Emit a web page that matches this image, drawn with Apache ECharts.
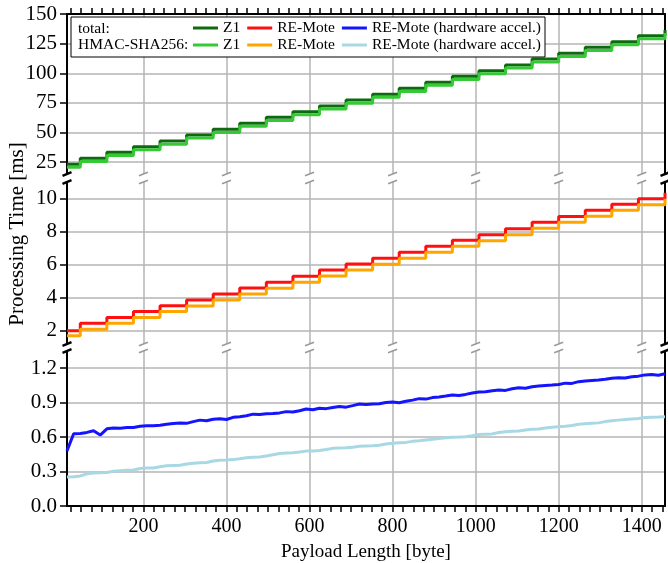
<!DOCTYPE html>
<html><head><meta charset="utf-8">
<script src="https://cdn.jsdelivr.net/npm/echarts@6/dist/echarts.min.js"></script>
<style>html,body{margin:0;padding:0;background:#fff}#c{width:668px;height:563px}</style>
</head><body><div id="c"></div>
<script>
const FONT = 'Liberation Serif';

// step series (one level per 64-byte block)
const stepBytes = [16, 48, 112, 176, 240, 304, 368, 432, 496, 560, 624, 688, 752, 816, 880, 944, 1008, 1072, 1136, 1200, 1264, 1328, 1392, 1456];
const z1Total = [23.3, 28.2, 33.3, 38.0, 42.8, 47.9, 52.7, 57.8, 62.8, 67.6, 72.4, 77.4, 82.3, 87.3, 92.4, 97.4, 102.2, 107.0, 112.0, 116.8, 121.9, 126.6, 131.7, 136.5];
const z1Hmac = [20.7, 25.6, 30.7, 35.4, 40.2, 45.3, 50.1, 55.2, 60.2, 65.0, 69.8, 74.8, 79.7, 84.7, 89.8, 94.8, 99.6, 104.4, 109.4, 114.2, 119.3, 124.0, 129.1, 133.9];
const reTotal = [2.0, 2.45, 2.81, 3.16, 3.52, 3.86, 4.22, 4.59, 4.93, 5.30, 5.68, 6.04, 6.38, 6.75, 7.11, 7.47, 7.81, 8.17, 8.56, 8.92, 9.29, 9.65, 9.99, 10.35];
const reHmac = [1.70, 2.09, 2.45, 2.80, 3.16, 3.50, 3.86, 4.23, 4.57, 4.94, 5.32, 5.68, 6.02, 6.39, 6.75, 7.11, 7.45, 7.81, 8.20, 8.56, 8.93, 9.29, 9.63, 9.99];

// hardware accelerated series
const hwBytes = [16,32,48,64,80,96,112,128,144,160,176,192,208,224,240,256,272,288,304,320,336,352,368,384,400,416,432,448,464,480,496,512,528,544,560,576,592,608,624,640,656,672,688,704,720,736,752,768,784,800,816,832,848,864,880,896,912,928,944,960,976,992,1008,1024,1040,1056,1072,1088,1104,1120,1136,1152,1168,1184,1200,1216,1232,1248,1264,1280,1296,1312,1328,1344,1360,1376,1392,1408,1424,1440,1456];
const hwTotal = [0.48,0.630,0.632,0.641,0.655,0.618,0.672,0.680,0.678,0.683,0.684,0.695,0.698,0.700,0.703,0.712,0.718,0.722,0.720,0.735,0.748,0.742,0.756,0.760,0.753,0.772,0.778,0.786,0.800,0.796,0.803,0.806,0.811,0.822,0.818,0.830,0.845,0.838,0.852,0.848,0.858,0.866,0.861,0.874,0.888,0.884,0.889,0.891,0.902,0.905,0.900,0.912,0.922,0.935,0.931,0.944,0.950,0.958,0.967,0.963,0.972,0.984,0.993,0.996,1.004,1.010,1.007,1.021,1.030,1.026,1.038,1.045,1.050,1.053,1.058,1.070,1.068,1.083,1.089,1.094,1.098,1.104,1.112,1.118,1.115,1.126,1.131,1.142,1.146,1.139,1.152];
const hwHmac = [0.252,0.255,0.262,0.280,0.287,0.290,0.292,0.303,0.308,0.311,0.313,0.326,0.330,0.331,0.342,0.350,0.353,0.355,0.366,0.372,0.376,0.379,0.392,0.398,0.400,0.404,0.412,0.421,0.424,0.426,0.436,0.446,0.458,0.461,0.463,0.470,0.478,0.480,0.483,0.492,0.502,0.506,0.508,0.512,0.520,0.522,0.524,0.530,0.540,0.546,0.550,0.554,0.563,0.568,0.575,0.582,0.588,0.594,0.598,0.600,0.603,0.612,0.622,0.626,0.628,0.640,0.646,0.650,0.654,0.662,0.668,0.670,0.680,0.686,0.690,0.694,0.702,0.712,0.716,0.720,0.724,0.735,0.742,0.748,0.754,0.758,0.762,0.770,0.773,0.775,0.778];

// tick labels
const majorX = [200, 400, 600, 800, 1000, 1200, 1400];
const minorX = [];
for (let v = 25; v < 1456; v += 25) minorX.push(v);
const yTopTicks = [25, 50, 75, 100, 125, 150];
const yMidTicks = [2, 4, 6, 8, 10];
const yBotTicks = [0, 0.3, 0.6, 0.9, 1.2];

const xMin = 16, xMax = 1456;
const grids = [
  {left: 67, right: 3, top: 14, height: 160},
  {left: 67, right: 3, top: 182, height: 162},
  {left: 67, right: 3, top: 351, height: 161}
];
const GRID_COL = '#b5b5b5';
const AX = {color: '#000', width: 2};

function xGridAxis(g) {
  return {type: 'value', gridIndex: g, min: xMin, max: xMax, position: 'bottom',
    axisLine: {show: false}, axisTick: {show: false, customValues: majorX},
    axisLabel: {show: false}, splitLine: {show: true, lineStyle: {color: GRID_COL, width: 1.5}}};
}
function yLeft(g, min, max, ticks, fmt) {
  return {type: 'value', gridIndex: g, min: min, max: max, position: 'left',
    axisLine: {show: true, onZero: false, lineStyle: AX},
    axisTick: {show: true, length: 7, customValues: ticks, lineStyle: {color: '#000', width: 1.5}},
    axisLabel: {show: true, customValues: ticks, margin: 10, color: '#000', fontFamily: FONT, fontSize: 21, formatter: fmt},
    splitLine: {show: true, lineStyle: {color: GRID_COL, width: 1.5}}};
}
function yRight(g, min, max) {
  return {type: 'value', gridIndex: g, min: min, max: max, position: 'right',
    axisLine: {show: true, onZero: false, lineStyle: AX}, axisTick: {show: false},
    axisLabel: {show: false}, splitLine: {show: false}};
}

const xAxes = [
  {type: 'value', gridIndex: 0, min: xMin, max: xMax, position: 'top',
    axisLine: {show: true, onZero: false, lineStyle: AX},
    axisTick: {show: true, length: 6, customValues: minorX, lineStyle: {color: '#000', width: 1.5}},
    axisLabel: {show: false}, splitLine: {show: false}},
  xGridAxis(0),
  xGridAxis(1),
  xGridAxis(2),
  {type: 'value', gridIndex: 2, min: xMin, max: xMax, position: 'bottom',
    axisLine: {show: true, onZero: false, lineStyle: AX},
    axisTick: {show: true, length: 6, customValues: minorX, lineStyle: {color: '#000', width: 1.5}},
    axisLabel: {show: true, customValues: majorX, margin: 11, color: '#000', fontFamily: FONT, fontSize: 20, formatter: v => String(v)},
    splitLine: {show: false},
    name: 'Payload Length [byte]', nameLocation: 'middle', nameGap: 37,
    nameTextStyle: {color: '#000', fontFamily: FONT, fontSize: 19}}
];
const yAxes = [
  yLeft(0, 15, 150, yTopTicks, v => String(v)), yRight(0, 15, 150),
  yLeft(1, 1.2, 11, yMidTicks, v => String(v)), yRight(1, 1.2, 11),
  yLeft(2, 0, 1.35, yBotTicks, v => v.toFixed(1)), yRight(2, 0, 1.35)
];

function lineSeries(name, xi, yi, color, data, step, width) {
  return {name: name, type: 'line', xAxisIndex: xi, yAxisIndex: yi, data: data,
    step: step ? 'end' : false, showSymbol: false, symbol: 'none', silent: true,
    lineStyle: {color: color, width: width}, itemStyle: {color: color},
    emphasis: {disabled: true}, clip: true};
}
const pair = (xs, ys) => xs.map((x, i) => [x, ys[i]]);

const series = [
  lineSeries('total|Z1', 1, 0, '#0e6a0e', pair(stepBytes, z1Total), true, 3),
  lineSeries('hmac|Z1', 1, 0, '#36c936', pair(stepBytes, z1Hmac), true, 3),
  lineSeries('total|RE-Mote', 2, 2, '#ff1010', pair(stepBytes, reTotal), true, 3),
  lineSeries('hmac|RE-Mote', 2, 2, '#ffa500', pair(stepBytes, reHmac), true, 3),
  lineSeries('total|RE-Mote (hardware accel.)', 3, 4, '#1414ff', pair(hwBytes, hwTotal), false, 3),
  lineSeries('hmac|RE-Mote (hardware accel.)', 3, 4, '#a8d8e4', pair(hwBytes, hwHmac), false, 3)
];

const LFS = 15.5;
const legendBase = {orient: 'horizontal', left: 193, itemWidth: 25, itemHeight: 3, itemGap: 7,
  icon: 'rect', selectedMode: false, padding: 0, z: 6,
  formatter: n => n.split('|')[1],
  textStyle: {color: '#000', fontFamily: FONT, fontSize: LFS, padding: [0, 0, 0, 0]}};

const chart = echarts.init(document.getElementById('c'));
chart.setOption({
  animation: false,
  backgroundColor: '#fff',
  grid: grids,
  xAxis: xAxes,
  yAxis: yAxes,
  legend: [
    Object.assign({}, legendBase, {top: 20, data: ['total|Z1', 'total|RE-Mote', 'total|RE-Mote (hardware accel.)']}),
    Object.assign({}, legendBase, {top: 37, data: ['hmac|Z1', 'hmac|RE-Mote', 'hmac|RE-Mote (hardware accel.)']})
  ],
  series: series
});

// decorations: legend box, row labels, y title, axis break marks
const els = [];
els.push({type: 'rect', z: 5, shape: {x: 71, y: 17, width: 474, height: 40},
  style: {fill: '#fff', stroke: '#000', lineWidth: 1}});
els.push({type: 'text', z: 7, x: 78, y: 28.5, style: {text: 'total:', fill: '#000', font: LFS + 'px "' + FONT + '"', verticalAlign: 'middle', align: 'left'}});
els.push({type: 'text', z: 7, x: 78, y: 45, style: {text: 'HMAC-SHA256:', fill: '#000', font: LFS + 'px "' + FONT + '"', verticalAlign: 'middle', align: 'left'}});
els.push({type: 'text', z: 7, x: 17, y: 234, rotation: Math.PI / 2,
  style: {text: 'Processing Time [ms]', fill: '#000', font: '21px "' + FONT + '"', align: 'center', verticalAlign: 'middle', x: 0, y: 0}});

const breakXs = [xMin].concat(majorX, [xMax]);
function slash(px, py, isAxis) {
  els.push({type: 'line', z: 8, shape: {x1: px - 4.5, y1: py + 1.8, x2: px + 4.5, y2: py - 1.8},
    style: {stroke: isAxis ? '#000' : '#999', lineWidth: isAxis ? 2.5 : 1.5}});
}
for (let g = 0; g < 2; g++) {
  const yA = grids[g].top + grids[g].height;
  const yB = grids[g + 1].top;
  breakXs.forEach((bx, i) => {
    const px = chart.convertToPixel({xAxisIndex: 1}, bx);
    const isAxis = (i === 0 || i === breakXs.length - 1);
    slash(px, yA, isAxis);
    slash(px, yB, isAxis);
  });
}
chart.setOption({graphic: els});
</script></body></html>
